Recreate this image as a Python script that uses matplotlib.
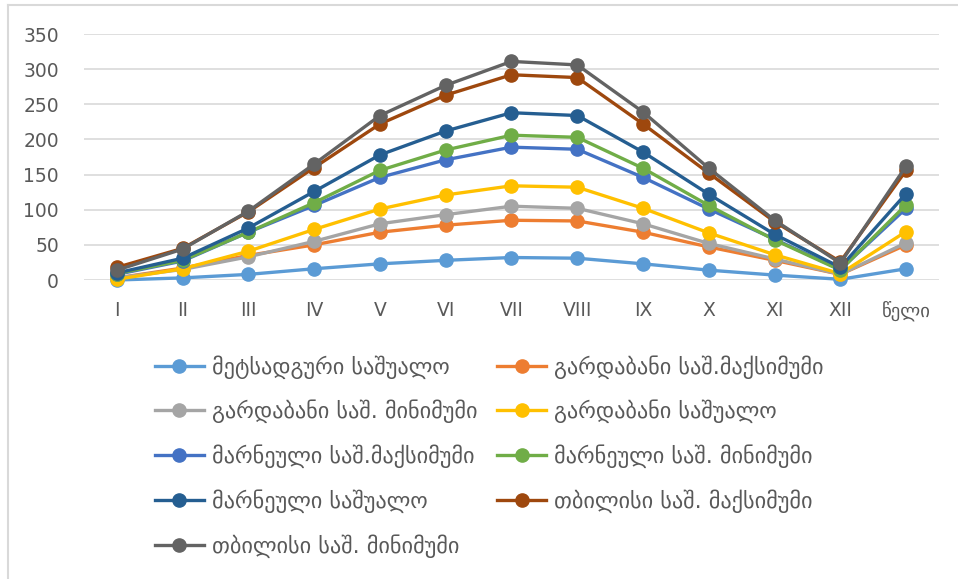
import matplotlib
matplotlib.use("Agg")
import matplotlib.pyplot as plt
from matplotlib.lines import Line2D

months = ["I", "II", "III", "IV", "V", "VI", "VII", "VIII", "IX", "X", "XI", "XII", "წელი"]

names = [
    "მეტსადგური საშუალო",
    "გარდაბანი საშ.მაქსიმუმი",
    "გარდაბანი საშ. მინიმუმი",
    "გარდაბანი საშუალო",
    "მარნეული საშ.მაქსიმუმი",
    "მარნეული საშ. მინიმუმი",
    "მარნეული საშუალო",
    "თბილისი საშ. მაქსიმუმი",
    "თბილისი საშ. მინიმუმი",
]

met_mean = [0, 3, 8, 16, 23, 28, 32, 31, 23, 14, 7, 1, 16]
gard_max = [3, 17, 35, 50, 68, 78, 85, 84, 68, 47, 28, 8, 50]
gard_min = [3, 15, 33, 55, 80, 93, 105, 102, 80, 52, 30, 8, 53]
gard_mean = [1, 16, 41, 72, 101, 121, 134, 132, 102, 67, 36, 9, 69]
marn_max = [8, 27, 68, 106, 146, 171, 189, 186, 146, 101, 58, 15, 102]
marn_min = [9, 28, 68, 110, 156, 185, 206, 203, 159, 106, 57, 14, 107]
marn_mean = [10, 31, 74, 126, 178, 212, 238, 234, 182, 122, 65, 18, 123]
tbil_max = [18, 45, 97, 160, 222, 263, 292, 288, 222, 152, 83, 26, 156]
tbil_min = [14, 44, 98, 165, 234, 277, 311, 306, 239, 159, 85, 24, 162]

series = [met_mean, gard_max, gard_min, gard_mean, marn_max, marn_min,
          marn_mean, tbil_max, tbil_min]
colors = ["#5B9BD5", "#ED7D31", "#A5A5A5", "#FFC000", "#4472C4",
          "#70AD47", "#255E91", "#9E480E", "#636363"]

fig = plt.figure(figsize=(9.58, 5.79), dpi=100)
ax = fig.add_axes([84 / 958, 1 - 280 / 579, (939 - 84) / 958, (280 - 34) / 579])

x = list(range(len(months)))
for vals, c, n in zip(series, colors, names):
    ax.plot(x, vals, color=c, lw=2.4, marker="o", markersize=9.5, label=n,
            clip_on=False, zorder=3)

ax.set_xlim(-0.5, 12.5)
ax.set_ylim(0, 350)
ax.set_yticks(range(0, 351, 50))
ax.set_xticks(x)
ax.set_xticklabels(months)
ax.grid(axis="y", color="#D9D9D9", lw=1.2, zorder=0)
for s in ax.spines.values():
    s.set_visible(False)
ax.tick_params(length=0, labelsize=13.5, colors="#595959")
ax.tick_params(axis="x", pad=15)
ax.tick_params(axis="y", pad=18)

handles, labels = ax.get_legend_handles_labels()
order = [0, 2, 4, 6, 8, 1, 3, 5, 7]
fig.legend([handles[i] for i in order], [labels[i] for i in order],
           ncol=2, frameon=False, loc="upper left",
           bbox_to_anchor=(146 / 958, 1 - 346 / 579),
           fontsize=16, labelcolor="#595959", handlelength=2.2,
           handletextpad=0.35, columnspacing=0.9, labelspacing=0.95,
           borderaxespad=0)

# chart frame
fig.add_artist(Line2D([7.5 / 958, 7.5 / 958], [0, 1 - 4.5 / 579],
                      transform=fig.transFigure, color="#D9D9D9", lw=1.5))
fig.add_artist(Line2D([7.5 / 958, 1], [1 - 4.5 / 579, 1 - 4.5 / 579],
                      transform=fig.transFigure, color="#D9D9D9", lw=1.5))

fig.savefig("out.png", dpi=100)
